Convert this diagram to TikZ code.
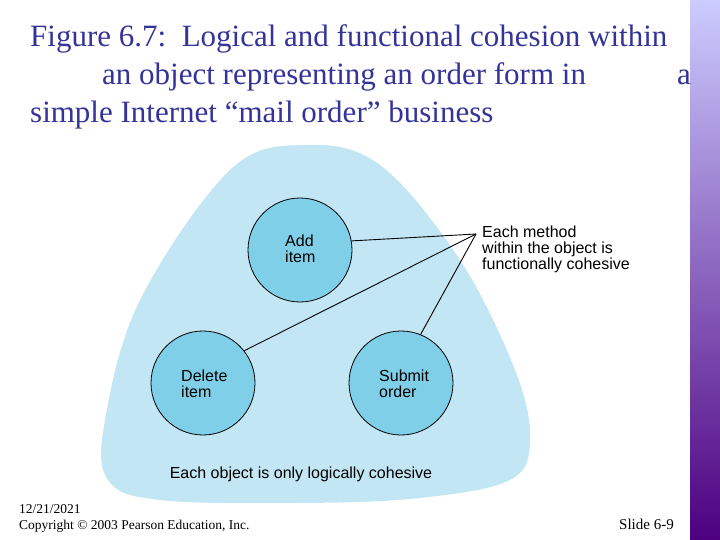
\documentclass[tikz,border=0pt]{standalone}
\usepackage{fontspec}
\setmainfont{Liberation Serif}
\newfontfamily\sansf{Liberation Sans}
\begin{document}
\begin{tikzpicture}[x=1pt,y=-1pt,
  meth/.style={circle,draw=black,line width=0.8pt,fill=circ,minimum size=104pt,inner sep=0pt},
  lbl/.style={font=\sansf\fontsize{16}{16}\selectfont,align=left,anchor=west},
  conn/.style={draw=black,line width=0.9pt},
  ttlf/.style={font=\fontsize{31}{31}\selectfont,text=ttl,anchor=base west,inner sep=0pt}]
\definecolor{blob}{HTML}{C2E6F3}
\definecolor{circ}{HTML}{80CFE9}
\definecolor{ttl}{HTML}{333399}
\useasboundingbox (0,0) rectangle (720,540);
\shade[top color=blue!20!white,bottom color=blue!50!purple!80!black] (690,0) rectangle (720,540);
\node[ttlf] (t1) at (30,47) {Figure 6.7:\ \ Logical and functional cohesion within};
\node[ttlf] (t2) at (102,85) {an object representing an order form in};
\node[ttlf] (t2b) at (677,85) {a};
\node[ttlf] (t3) at (30,123) {simple Internet “mail order” business};
\fill[blob] plot[smooth cycle,tension=0.6] coordinates {(305,145) (380,165) (460,260) (515,370) (530,440) (510,480) (420,498) (300,503) (160,500) (108,480) (105,420) (140,300) (230,170)};
\node[meth] (add) at (300,250) {};
\node[meth] (del) at (203,383) {};
\node[meth] (sub) at (401,383) {};
\node[lbl,inner sep=0pt] (addt) at (285,249) {Add\\item};
\node[lbl,inner sep=0pt] (delt) at (181,384) {Delete\\item};
\node[lbl,inner sep=0pt] (subt) at (379,384) {Submit\\order};
\node[lbl,inner sep=0pt] (note) at (482,249) {Each method\\within the object is\\functionally cohesive};
\coordinate (tip) at (476,234);
\draw[conn] (tip) -- (add.10);
\draw[conn] (tip) -- (del.38);
\draw[conn] (tip) -- (sub.68);
\node[font=\sansf\fontsize{16}{16}\selectfont,anchor=base,inner sep=0pt] (logi) at (301,478) {Each object is only logically cohesive};
\node[font=\fontsize{13.5}{13.5}\selectfont,anchor=base west,inner sep=0pt] (date) at (19,513) {12/21/2021};
\node[font=\fontsize{13.5}{13.5}\selectfont,anchor=base west,inner sep=0pt] (copy) at (19,529) {Copyright © 2003 Pearson Education, Inc.};
\node[font=\fontsize{15}{15}\selectfont,anchor=base west,inner sep=0pt] (slide) at (619,529) {Slide 6-9};
\end{tikzpicture}
\end{document}
